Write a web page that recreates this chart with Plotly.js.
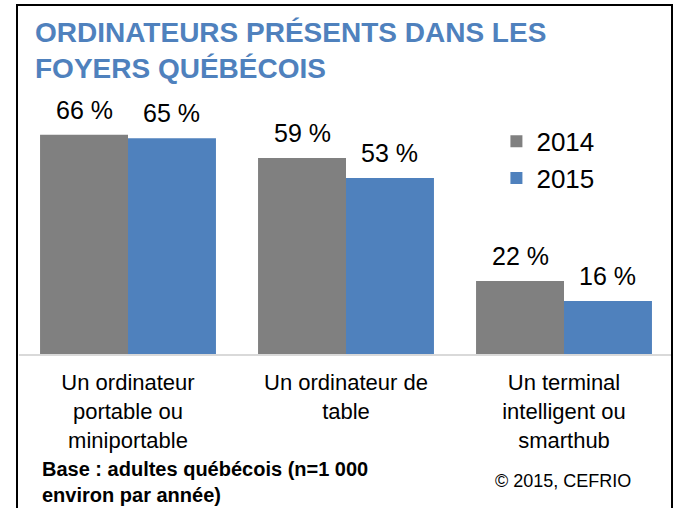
<!DOCTYPE html>
<html>
<head>
<meta charset="utf-8">
<script src="https://cdn.plot.ly/plotly-3.0.1.min.js"></script>
<style>
html,body{margin:0;padding:0;background:#fff;}
#frame{position:absolute;left:16px;top:4px;width:657px;height:520px;border:2px solid #000;box-sizing:border-box;}
#chart{position:absolute;left:0;top:0;width:678px;height:508px;}
</style>
</head>
<body>
<div id="chart"></div>
<div id="frame"></div>
<script>
const categories = [
  "Un ordinateur<br>portable ou<br>miniportable",
  "Un ordinateur de<br>table",
  "Un terminal<br>intelligent ou<br>smarthub"
];
const seriesNames = ["2014", "2015"];
const values2014 = [66, 59, 22];
const values2015 = [65, 53, 16];
const seriesColors = ["#808080", "#4F81BD"];

const allValues = [values2014, values2015];
const bargap = 0.193;
const halfBar = (1 - bargap) / 4;

// plot area geometry in pixels (for placing footer notes)
const plotLeft = 19, plotWidth = 654, plotBottom = 354, plotHeight = 254;
const px2x = p => (p - plotLeft) / plotWidth;
const py2y = p => (plotBottom - p) / plotHeight;

const traces = allValues.map((vals, i) => ({
  type: "bar",
  name: seriesNames[i],
  x: categories,
  y: vals,
  marker: {color: seriesColors[i]},
  hoverinfo: "skip"
}));

const annotations = [];
allValues.forEach((vals, i) => {
  vals.forEach((v, j) => {
    annotations.push({
      xref: "x", yref: "y",
      x: j + (i === 0 ? -halfBar : halfBar),
      y: v,
      text: v + " %",
      showarrow: false,
      yanchor: "bottom",
      yshift: 9,
      font: {family: "Liberation Sans, Arial, sans-serif", size: 25, color: "#000"}
    });
  });
});
annotations.push({
  xref: "paper", yref: "paper",
  x: px2x(40), y: py2y(456),
  xanchor: "left", yanchor: "top", align: "left",
  text: "<b>Base : adultes québécois (n=1 000<br>environ par année)</b>",
  showarrow: false,
  font: {family: "Liberation Sans, Arial, sans-serif", size: 20, color: "#000"}
});
annotations.push({
  xref: "paper", yref: "paper",
  x: px2x(563), y: py2y(481),
  xanchor: "center", yanchor: "middle",
  text: "© 2015, CEFRIO",
  showarrow: false,
  font: {family: "Liberation Sans, Arial, sans-serif", size: 18, color: "#000"}
});

const layout = {
  width: 678, height: 508,
  paper_bgcolor: "#fff", plot_bgcolor: "#fff",
  margin: {l: plotLeft, r: 678 - plotLeft - plotWidth, t: plotBottom - plotHeight, b: 508 - plotBottom},
  title: {
    text: "<b>ORDINATEURS PRÉSENTS DANS LES<br>FOYERS QUÉBÉCOIS</b>",
    x: 35/678, xanchor: "left", xref: "container",
    y: 1 - 42/508, yanchor: "top", yref: "container",
    font: {family: "Liberation Sans, Arial, sans-serif", size: 28, color: "#4F81BD"}
  },
  barmode: "group",
  bargap: bargap,
  bargroupgap: 0,
  showlegend: true,
  legend: {
    x: 0.73, y: 0.93, xanchor: "left", yanchor: "top",
    font: {family: "Liberation Sans, Arial, sans-serif", size: 26, color: "#000"},
    bgcolor: "rgba(0,0,0,0)", itemwidth: 30, tracegroupgap: 0
  },
  xaxis: {
    type: "category",
    showline: true, linecolor: "#D9D9D9", linewidth: 2,
    ticks: "", showgrid: false, zeroline: false,
    tickfont: {family: "Liberation Sans, Arial, sans-serif", size: 22, color: "#000"},
    ticklabelstandoff: 8,
    fixedrange: true
  },
  yaxis: {
    range: [0, 76.5],
    visible: false, showgrid: false, zeroline: false,
    fixedrange: true
  },
  annotations: annotations,
  font: {family: "Liberation Sans, Arial, sans-serif"}
};

Plotly.newPlot("chart", traces, layout, {displayModeBar: false, staticPlot: true});
</script>
</body>
</html>
